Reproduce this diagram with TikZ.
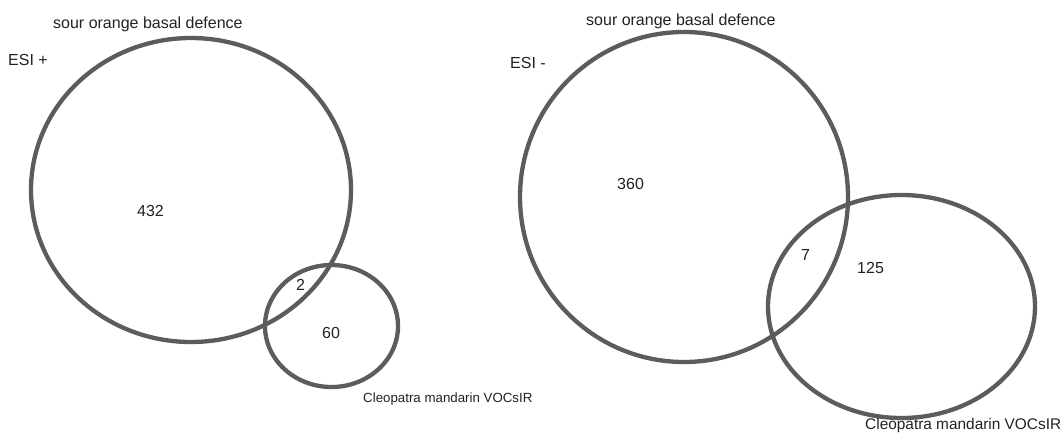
\documentclass[tikz,border=0pt]{standalone}
\usepackage{fontspec}
\setmainfont{Liberation Sans}
\definecolor{ringgray}{HTML}{5C5C5C}
\definecolor{labelink}{HTML}{222222}
\tikzset{
  ring/.style={draw=ringgray, line width=4.3pt},
  lab/.style={anchor=base west, inner sep=0pt, text=labelink, font=\fontsize{16}{19}\selectfont},
  smalllab/.style={lab, font=\fontsize{13.3}{16}\selectfont},
  midlab/.style={lab, font=\fontsize{15.4}{18}\selectfont}
}
\begin{document}
\begin{tikzpicture}[x=1pt,y=-1pt]
\useasboundingbox (0,0) rectangle (1064,440);
\fill[white] (0,0) rectangle (1064,440);

% ESI + diagram
\draw[ring] (191,190) ellipse [x radius=160, y radius=152];
\draw[ring] (331.5,326) ellipse [x radius=66.5, y radius=61];
\node[lab] (topL) at (53,28) {sour orange basal defence};
\node[lab] (esiP) at (8,65) {ESI +};
\node[lab] (n432) at (137,216) {432};
\node[lab] (n2) at (296,290) {2};
\node[lab] (n60) at (322,338) {60};
\node[smalllab] (cleoL) at (363,402) {Cleopatra mandarin VOCsIR};

% ESI - diagram
\draw[ring] (684,197) ellipse [x radius=164, y radius=165];
\draw[ring] (901.5,306.5) ellipse [x radius=133.5, y radius=111.5];
\node[lab] (topR) at (586,25) {sour orange basal defence};
\node[lab] (esiM) at (510,68) {ESI -};
\node[lab] (n360) at (617,189) {360};
\node[lab] (n7) at (801,260) {7};
\node[lab] (n125) at (857,273) {125};
\node[midlab] (cleoR) at (865,429) {Cleopatra mandarin VOCsIR};
\end{tikzpicture}
\end{document}
